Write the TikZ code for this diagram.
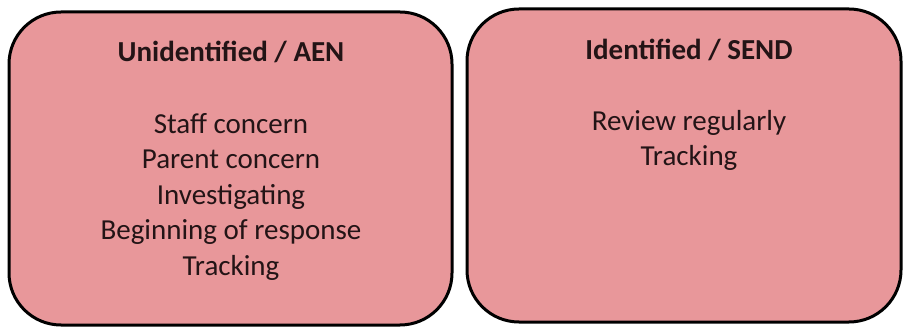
\documentclass[tikz,border=0pt]{standalone}
\usepackage{fontspec}
\setmainfont{Carlito}
\usetikzlibrary{positioning}
\definecolor{boxpink}{HTML}{E8979A}
\definecolor{inkdark}{HTML}{231416}

\begin{document}
\begin{tikzpicture}[x=1pt,y=1pt,
    panel/.style={draw=black, line width=3pt, fill=boxpink, rounded corners=52pt,
                  inner sep=0pt, minimum height=313pt},
    paneltitle/.style={anchor=base, inner sep=0pt, text=inkdark,
                       font=\fontsize{29}{35.5}\selectfont\bfseries},
    panellist/.style={anchor=north, inner sep=0pt, align=center, text=inkdark,
                      font=\fontsize{29}{35.5}\selectfont}]
  \useasboundingbox (0,0) rectangle (903,327);
  % the two boxes
  \node[panel, minimum width=443pt] (aen) at (230.5,158.5) {};
  \node[panel, minimum width=434pt] (send) at (684,161.5) {};
  % left box: unidentified
  \node[paneltitle] (aentitle) at (231,265) {Unidentified / AEN};
  \node[panellist] (aenlist) at ([yshift=-51pt]aentitle.base)
    {Staff concern\\Parent concern\\Investigating\\Beginning of response\\Tracking};
  % right box: identified
  \node[paneltitle] (sendtitle) at (689,267) {Identified / SEND};
  \node[panellist] (sendlist) at ([yshift=-50pt]sendtitle.base)
    {Review regularly\\Tracking};
\end{tikzpicture}
\end{document}
